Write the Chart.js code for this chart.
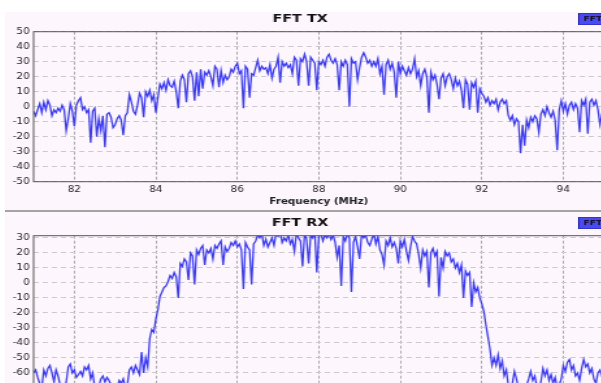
<!DOCTYPE html>
<html>
<head>
<meta charset="utf-8">
<script src="https://cdn.jsdelivr.net/npm/chart.js@4.4.1/dist/chart.umd.min.js"></script>
<style>
  html, body { margin: 0; padding: 0; background: #fff; overflow: hidden; }
  #wrap { position: absolute; left: 5px; top: 12px; width: 470px; height: 420px;
          background: #fdf6fd; transform: scaleX(1.3); transform-origin: 0 0; }
  .panel { position: absolute; left: 0; width: 470px; height: 198px; }
  .panel canvas { display: block; }
  .sep { position: absolute; left: 0; top: 198px; width: 470px; height: 2px; background: #a4a4a4; }
  .tag { position: absolute; left: 441px; top: 1px; width: 24px; height: 10px;
         background: #4a4af5; border: 1px solid #3434cc; color: #14143c;
         font: bold 7px "DejaVu Sans"; line-height: 10px; padding-left: 3px; }
</style>
</head>
<body>
<div id="wrap">
  <div class="panel" style="top:0">
    <canvas id="fftTx" width="470" height="198"></canvas>
    <div class="tag">FFT</div>
  </div>
  <div class="sep"></div>
  <div class="panel" style="top:204px">
    <canvas id="fftRx" width="470" height="198"></canvas>
    <div class="tag">FFT</div>
  </div>
</div>
<script>
// sweep grid (MHz)
const freqStart = 81;
const freqStep = 0.05;

// levels, one per 0.05 MHz bin from 81.00 to 95.00
const txLevels = [
  -3, -6, -2, 2, -4, 3, -2, 4, 1, -6,
  -2, -4, -1, -3, 1, -2, -16, -8, 2, -3,
  -13, 1, 4, 6, -2, 0, -4, -2, -24, -3,
  -1, -20, -8, -16, -6, -27, -5, -4, -7, -14,
  -12, -8, -6, -9, -19, -6, -4, 8, 3, -3,
  -5, 1, 9, 6, -7, 10, 7, 11, 4, 8,
  -4, 6, 15, 12, 16, 11, 18, 14, 13, 17,
  10, -1, 17, 21, 18, 3, 22, 24, 20, 4,
  23, 7, 25, 12, 23, 21, 24, 20, 14, 27,
  25, 13, 24, 16, 21, 18, 20, 25, 23, 27,
  29, 22, 24, -1, 27, 25, 6, 22, 21, 26,
  31, 24, 27, 25, 26, 22, 28, 19, 25, 27,
  33, 16, 30, 27, 29, 26, 28, 22, 33, 31,
  14, 32, 30, 35, 30, 14, 33, 31, 29, 11,
  30, 28, 31, 27, 33, 35, 31, 29, 32, 28,
  11, 30, 27, 31, 28, 0, 32, 29, 30, 18,
  26, 33, 36, 33, 29, 31, 27, 30, 27, 32,
  22, 27, 8, 28, 31, 25, 29, 23, 6, 30,
  22, 27, 24, 21, 26, 22, 25, 32, 20, 24,
  14, 22, 25, 20, -4, 23, 18, 21, 15, 5,
  19, 22, 14, 20, 22, 18, 12, 19, 14, 17,
  11, -1, 18, 15, -2, 16, 13, 17, -4, 12,
  9, 7, 3, 6, 1, 4, 2, 5, -2, 3,
  5, 2, 4, -6, -9, -6, -12, -8, -10, -31,
  -12, -26, -9, -14, -7, -10, -6, -8, -17, -5,
  -2, -6, 0, -4, -7, -3, -9, -29, -2, 4,
  -3, 2, -5, 1, 3, -2, 2, -1, -17, 4,
  1, 5, -18, 3, 5, 1, 4, -2, -12, -5, -2
];

const rxLevels = [
  -60, -58, -63, -67, -70, -58, -62, -57, -55, -60,
  -66, -58, -62, -68, -72, -70, -66, -56, -54, -60,
  -58, -63, -61, -59, -62, -56, -58, -55, -64, -60,
  -70, -74, -69, -64, -62, -66, -63, -65, -68, -72,
  -75, -70, -65, -67, -64, -70, -68, -58, -56, -60,
  -55, -58, -61, -46, -60, -50, -56, -37, -31, -33,
  -24, -18, -9, -6, -3, -2, 1, 5, 3, 7,
  4, -10, 13, 11, 16, 14, 2, 20, 18, -1,
  22, 19, 23, 25, 12, 22, 20, 23, 16, 25,
  23, 26, 28, 12, 24, 21, 23, 27, 25, 28,
  24, 26, 22, -4, 27, 24, 22, -1, 26, 28,
  32, 30, 33, 25, 29, 24, 27, 30, 25, 33,
  31, 34, 27, 30, 28, 32, 26, 29, 21, 33,
  30, 28, 11, 33, 29, 13, 32, 30, 34, 7,
  31, 33, 28, 32, 30, 33, 29, 32, 27, 17,
  25, -2, 31, 28, 33, 30, -6, 27, 31, 24,
  16, 33, 30, 32, 27, 25, 29, 33, 26, 31,
  22, 19, 12, 28, 25, 30, 24, 27, 23, 13,
  28, 24, 29, 21, 15, 24, 31, 28, 26, 19,
  10, 22, 18, 21, -3, 20, 23, 18, 21, -9,
  17, 10, 21, 18, 20, 14, 16, 10, 13, 7,
  12, -10, 8, 5, 7, -16, 0, -6, -3, -10,
  -14, -19, -28, -36, -44, -55, -50, -55, -48, -57,
  -52, -62, -58, -68, -72, -67, -59, -64, -70, -73,
  -69, -71, -68, -64, -59, -65, -62, -69, -72, -66,
  -57, -62, -58, -65, -61, -67, -63, -70, -68, -64,
  -55, -59, -53, -51, -58, -55, -62, -60, -65, -57,
  -51, -56, -54, -60, -57, -64, -67, -60, -58, -62, -60
];

const freqTicks = [82, 84, 86, 88, 90, 92, 94];
const txTicks = [-50, -40, -30, -20, -10, 0, 10, 20, 30, 40, 50];
const rxTicks = [-60, -50, -40, -30, -20, -10, 0, 10, 20, 30];

const font = 'DejaVu Sans';

// dark frame round the plot area
const frame = {
  id: 'frame',
  afterDatasetsDraw(chart) {
    const a = chart.chartArea, ctx = chart.ctx;
    ctx.save();
    ctx.strokeStyle = '#555';
    ctx.lineWidth = 1;
    ctx.strokeRect(a.left, a.top, a.right - a.left, a.bottom - a.top);
    ctx.restore();
  }
};

// panel title, centred on the visible window rather than the canvas
const panelTitle = {
  id: 'panelTitle',
  afterDraw(chart, args, opts) {
    const ctx = chart.ctx;
    ctx.save();
    ctx.font = 'bold 11px "' + font + '"';
    ctx.fillStyle = '#111';
    ctx.textAlign = 'center';
    ctx.textBaseline = 'middle';
    ctx.fillText(opts.text, 227, 7.6);
    ctx.restore();
  }
};

function makeChart(id, title, levels, yTicks, yMin, yMax) {
  const points = levels.map((v, i) => ({ x: +(freqStart + i * freqStep).toFixed(2), y: v }));
  return new Chart(document.getElementById(id), {
    type: 'line',
    data: {
      datasets: [{
        label: 'FFT',
        data: points,
        borderColor: 'rgb(58, 58, 255)',
        borderWidth: 1.3,
        pointRadius: 0,
        tension: 0
      }]
    },
    options: {
      responsive: false,
      animation: false,
      layout: { padding: { left: 0, right: 9.2, top: 19.7, bottom: 0 } },
      plugins: {
        legend: { display: false },
        tooltip: { enabled: false },
        title: { display: false },
        panelTitle: { text: title }
      },
      scales: {
        x: {
          type: 'linear',
          min: 81,
          max: 95,
          afterBuildTicks: (s) => { s.ticks = freqTicks.map(v => ({ value: v })); },
          afterFit: (s) => { s.height = 28.3; },
          ticks: { color: '#222', font: { family: font, size: 8 }, padding: 3, maxRotation: 0, autoSkip: false },
          grid: { color: '#ababab', drawTicks: false },
          border: { display: false, dash: [3, 2] },
          title: {
            display: true,
            text: 'Frequency (MHz)',
            color: '#222',
            font: { family: font, size: 8, weight: 'bold' },
            padding: { top: 2, bottom: 3.2 }
          }
        },
        y: {
          min: yMin,
          max: yMax,
          afterBuildTicks: (s) => { s.ticks = yTicks.map(v => ({ value: v })); },
          afterFit: (s) => { s.width = 22; },
          ticks: { color: '#222', font: { family: font, size: 8 }, padding: 3 },
          grid: { color: '#cbcbcb', drawTicks: false },
          border: { display: false, dash: [4, 3] }
        }
      }
    },
    plugins: [frame, panelTitle]
  });
}

makeChart('fftTx', 'FFT TX', txLevels, txTicks, -50, 50);
makeChart('fftRx', 'FFT RX', rxLevels, rxTicks, -68.5, 31.5);
</script>
</body>
</html>
